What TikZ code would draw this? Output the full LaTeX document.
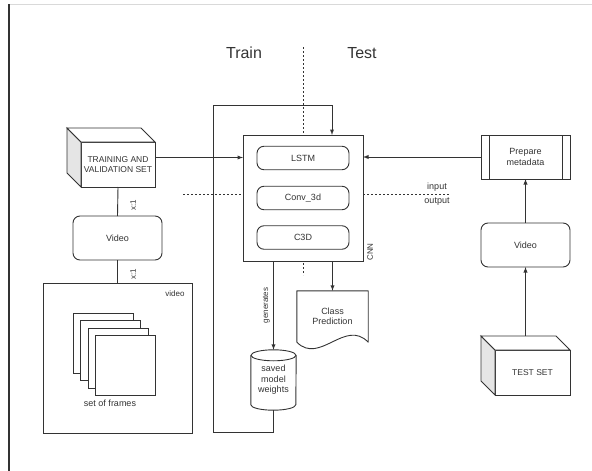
\documentclass[tikz,border=0pt]{standalone}
\usepackage{fontspec}
\setmainfont{Liberation Sans}
\usetikzlibrary{calc,positioning}
\definecolor{ink}{HTML}{333333}
\tikzset{
  every node/.style={text=ink, font=\fontsize{9}{10.5}\selectfont},
  block/.style={draw=ink, line width=0.9pt, fill=white, inner sep=0pt, outer sep=0pt, align=center},
  rbox/.style={block, rounded corners=7pt},
  capfont/.style={font=\fontsize{8.5}{10.5}\selectfont},
  tiny/.style={font=\fontsize{8}{9}\selectfont},
  arr/.style={draw=ink, line width=0.9pt, -latex},
  plain/.style={draw=ink, line width=0.9pt},
  sep/.style={draw=ink, line width=0.8pt, dash pattern=on 2pt off 2pt},
  framebox/.style={block, minimum size=60pt},
}
% side and top faces of a box drawn as a cube
\newcommand{\cubefaces}[1]{
  \draw[plain, fill=gray!20] (#1.north west) -- ++(-14,-14) -- ($(#1.south west)+(-14,-14)$) -- (#1.south west) -- cycle;
  \draw[plain, fill=white] (#1.north west) -- ++(-14,-14) -- ($(#1.north east)+(-14,-14)$) -- (#1.north east) -- cycle;
}
\begin{document}
\begin{tikzpicture}[x=1pt, y=-1pt]
  \useasboundingbox (0,0) rectangle (592,471);
  \draw[gray!30, line width=0.8pt] (9,4) -- (592,4);
  \draw[black!80, line width=1.2pt] (9,4) -- (9,471);

  \node[font=\fontsize{16}{18}\selectfont] (train) at (244,53) {Train};
  \node[font=\fontsize{16}{18}\selectfont] (test) at (362,53) {Test};
  \draw[sep] (303,47) -- (303,275);
  \draw[sep] (183,194) -- (450,194);
  \node (in) at (437,187) {input};
  \node (out) at (437,202) {output};

  % network
  \node[block, minimum width=120pt, minimum height=126pt] (CNN) at (303,198) {};
  \node[rbox, minimum width=92pt, minimum height=23.5pt] (lstm) at (303,158) {LSTM};
  \node[rbox, minimum width=92pt, minimum height=23.5pt] (conv) at (303,198) {Conv\_3d};
  \node[rbox, minimum width=92pt, minimum height=23.5pt] (c3d) at (303,237.5) {C3D};
  \node[tiny, rotate=90] (cnnlab) at (370,252) {CNN};

  % training side
  \node[block, capfont, minimum width=74pt, minimum height=45pt] (trainset) at (118,164.5) {TRAINING AND\\VALIDATION SET};
  \cubefaces{trainset}
  \node[rbox, minimum width=89pt, minimum height=44pt] (vidL) at (117.5,238) {Video};
  \node[block, minimum width=149pt, minimum height=150pt] (vidbox) at (117.5,358) {};
  \node[tiny, anchor=north east] (vidlab) at ($(vidbox.north east)+(-4,4)$) {video};
  \foreach \i in {0,...,3}
    \node[framebox] (F\i) at (103+7.5*\i, 343+7.5*\i) {};
  \node (frames) at (110,403) {set of frames};

  \draw[plain] (trainset.south) -- (vidL.north);
  \draw[plain] (vidL.south) -- (vidbox.north);
  \node[tiny, rotate=90] (m1) at (133,205) {x:1};
  \node[tiny, rotate=90] (m2) at (133,274) {x:1};

  % outputs
  \node[minimum width=45pt, minimum height=60pt, inner sep=0pt, align=center] (W) at (273.5,380) {saved\\model\\weights};
  \draw[plain] ($(W.north west)+(0,5.5)$) -- ($(W.south west)+(0,-5.5)$)
    arc[start angle=180, end angle=360, x radius=22.5pt, y radius=5.5pt] -- ($(W.north east)+(0,5.5)$);
  \draw[plain] ($(W.north)+(0,5.5)$) ellipse[x radius=22.5pt, y radius=5.5pt];

  \node[minimum width=71pt, minimum height=51pt, inner sep=0pt, align=center] (pred) at (332.5,316.5) {Class\\Prediction};
  \draw[plain, line join=round] (pred.south west) -- (pred.north west) -- (pred.north east) -- (pred.south east)
    .. controls ($(pred.south east)+(-23,-24)$) and ($(pred.south west)+(23,23)$) .. (pred.south west);

  \draw[arr] (W |- CNN.south) -- node[tiny, rotate=90, above] (gen) {generates} (W.north);
  \draw[arr] (pred |- CNN.south) -- (pred.north);
  \coordinate (fb) at (213,432);
  \draw[arr] (W.south) |- (fb) |- ($(CNN.north)+(29,-30)$) -- ($(CNN.north)+(29,0)$);

  % test side
  \node[block, minimum width=89pt, minimum height=44pt] (prep) at (525.5,157) {Prepare\\metadata};
  \draw[plain] ($(prep.north west)+(8,0)$) -- ($(prep.south west)+(8,0)$);
  \draw[plain] ($(prep.north east)+(-8,0)$) -- ($(prep.south east)+(-8,0)$);
  \node[rbox, minimum width=89pt, minimum height=44pt] (vidR) at (525.5,245) {Video};
  \node[block, capfont, minimum width=75pt, minimum height=45pt] (testset) at (532.5,372.5) {TEST SET};
  \cubefaces{testset}

  \draw[arr] ($(testset.north)+(-7,-14)$) -- (vidR.south);
  \draw[arr] (vidR.north) -- (prep.south);
  \draw[arr] (prep.west) -- (prep.west -| CNN.east);
  \draw[arr] ($(trainset.east)+(0,-7)$) coordinate (tr) -- (tr -| CNN.west);
\end{tikzpicture}
\end{document}
